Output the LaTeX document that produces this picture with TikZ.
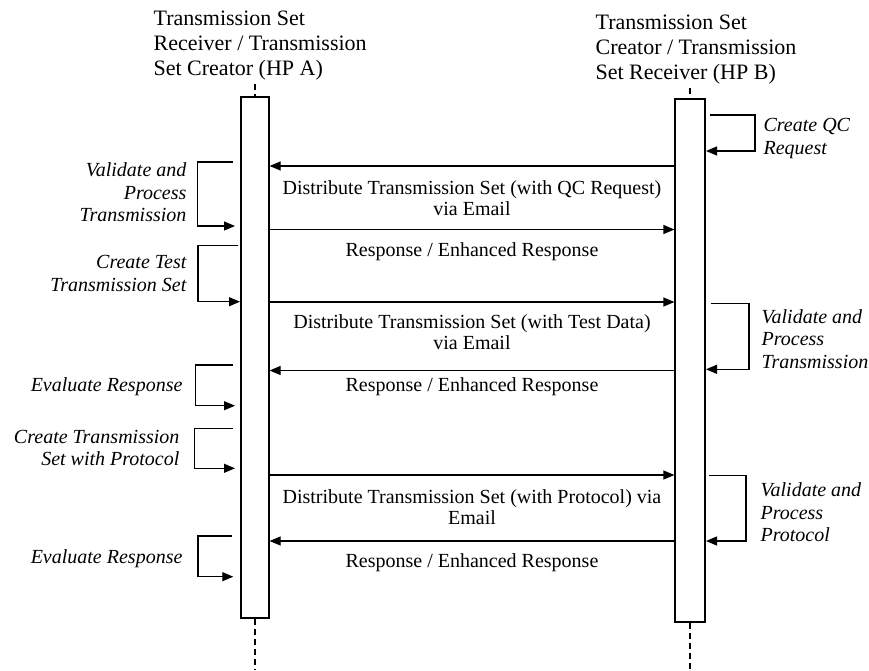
\documentclass[tikz,border=0pt]{standalone}
\usepackage{fontspec}
\setmainfont{Liberation Serif}
\usetikzlibrary{arrows.meta}
\begin{document}
\begin{tikzpicture}[x=1pt,y=-1pt,line width=1.2pt,
  lifebox/.style={draw, fill=white, inner sep=0pt},
  lifedash/.style={dash pattern=on 6pt off 4pt},
  msg/.style={-{Triangle[length=11pt,width=9pt]}},
  selfloop/.style={-{Triangle[length=11pt,width=9pt]}},
  % multi-line nodes are placed by the baseline of their last line
  msglabel/.style={font=\fontsize{20}{21}\selectfont, align=center, anchor=base, inner sep=0pt},
  actL/.style={font=\fontsize{20}{22.5}\selectfont\itshape, align=right, anchor=base east, inner sep=0pt},
  actR/.style={font=\fontsize{20}{22.5}\selectfont\itshape, align=left, anchor=base west, inner sep=0pt},
  head/.style={font=\fontsize{22}{25}\selectfont, align=left, anchor=base west, inner sep=0pt}]
\useasboundingbox (0,0) rectangle (869,670);

% participants
\node[head] (headA) at (153,75) {Transmission Set\\Receiver / Transmission\\Set Creator (HP A)};
\node[head] (headB) at (595,79) {Transmission Set\\Creator / Transmission\\Set Receiver (HP B)};

% activation bars
\node[lifebox, minimum width=28pt, minimum height=521pt] (A) at (255,357.5) {};
\node[lifebox, minimum width=30pt, minimum height=523pt] (B) at (690,360.5) {};

% dashed lifelines
\coordinate (Atop) at (255,84);
\coordinate (Abot) at (255,670);
\coordinate (Btop) at (690,88);
\coordinate (Bbot) at (690,670);
\draw[lifedash] (Atop) -- (A.north);
\draw[lifedash] (A.south) -- (Abot);
\draw[lifedash] (Btop) -- (B.north);
\draw[lifedash] (B.south) -- (Bbot);

% message levels
\coordinate (m1) at (0,166);
\coordinate (m2) at (0,229.5);
\coordinate (m3) at (0,302);
\coordinate (m4) at (0,370.5);
\coordinate (m5) at (0,475);
\coordinate (m6) at (0,541);

\draw[msg] (B.west |- m1) -- (A.east |- m1);
\draw[msg] (A.east |- m2) -- (B.west |- m2);
\draw[msg] (A.east |- m3) -- (B.west |- m3);
\draw[msg] (B.west |- m4) -- (A.east |- m4);
\draw[msg] (A.east |- m5) -- (B.west |- m5);
\draw[msg] (B.west |- m6) -- (A.east |- m6);

\node[msglabel] (t1) at (472,215) {Distribute Transmission Set (with QC Request)\\via Email};
\node[msglabel] (t2) at (472,256.5) {Response / Enhanced Response};
\node[msglabel] (t3) at (472,349.5) {Distribute Transmission Set (with Test Data)\\via Email};
\node[msglabel] (t4) at (472,391.5) {Response / Enhanced Response};
\node[msglabel] (t5) at (472,524.5) {Distribute Transmission Set (with Protocol) via\\Email};
\node[msglabel] (t6) at (472,567.5) {Response / Enhanced Response};

% self calls of HP A
\coordinate (a1s) at (233,162);   \coordinate (a1e) at (235,226);
\coordinate (a2s) at (238,245.7); \coordinate (a2e) at (240,301.7);
\coordinate (a3s) at (233.3,365); \coordinate (a3e) at (235,405.7);
\coordinate (a4s) at (232.7,428.3); \coordinate (a4e) at (235,468.3);
\coordinate (a5s) at (231.7,536); \coordinate (a5e) at (233.3,576.7);
\draw[selfloop] (a1s) -- (197.7,162) |- (a1e);
\draw[selfloop] (a2s) -- (198,245.7) |- (a2e);
\draw[selfloop] (a3s) -- (195.7,365) |- (a3e);
\draw[selfloop] (a4s) -- (194.3,428.3) |- (a4e);
\draw[selfloop] (a5s) -- (198,536) |- (a5e);

\node[actL] (la1) at (187,221.5) {Validate and\\Process\\Transmission};
\node[actL] (la2) at (187,291) {Create Test\\Transmission Set};
\node[actL] (la3) at (183,391.5) {Evaluate Response};
\node[actL] (la4) at (180,465.5) {Create Transmission\\Set with Protocol};
\node[actL] (la5) at (183,563.5) {Evaluate Response};

% self calls of HP B
\coordinate (b1s) at (710,115);   \coordinate (b1e) at (706,151);
\coordinate (b2s) at (711,303.3); \coordinate (b2e) at (706,369.3);
\coordinate (b3s) at (709,475.3); \coordinate (b3e) at (706,541);
\draw[selfloop] (b1s) -- (755,115) |- (b1e);
\draw[selfloop] (b2s) -- (749,303.3) |- (b2e);
\draw[selfloop] (b3s) -- (746,475.3) |- (b3e);

\node[actR] (lb1) at (763,154) {Create QC\\Request};
\node[actR] (lb2) at (761,368) {Validate and\\Process\\Transmission};
\node[actR] (lb3) at (760,541.5) {Validate and\\Process\\Protocol};
\end{tikzpicture}
\end{document}
